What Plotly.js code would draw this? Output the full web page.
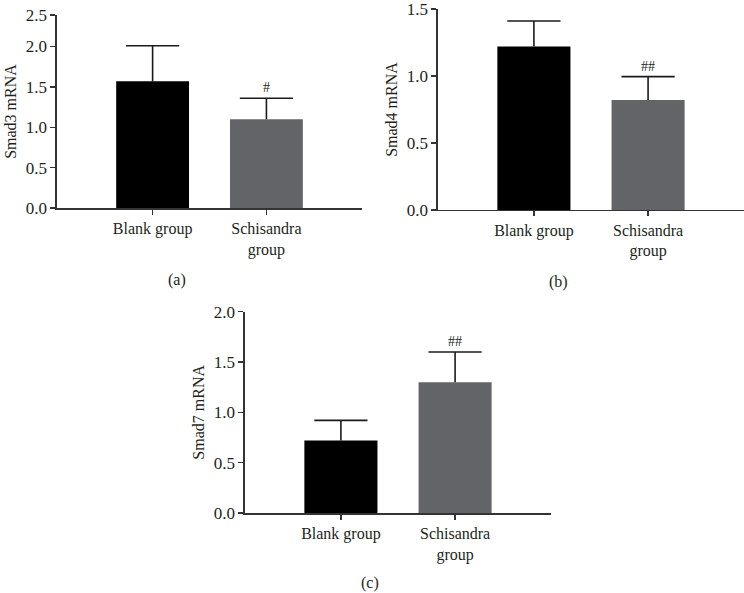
<!DOCTYPE html>
<html>
<head>
<meta charset="utf-8">
<script src="https://cdn.plot.ly/plotly-3.0.1.min.js"></script>
<style>html,body{margin:0;padding:0;background:#fff;}</style>
</head>
<body>
<div id="chart" style="width:744px;height:593px;"></div>
<script>
// Data
const categories = ['Blank group', 'Schisandra<br>group'];
const smad3 = [1.57, 1.10];
const smad3Err = [0.44, 0.26];
const smad4 = [1.22, 0.82];
const smad4Err = [0.19, 0.175];
const smad7 = [0.72, 1.30];
const smad7Err = [0.20, 0.30];
const marks3 = ['', '#'];
const marks4 = ['', '##'];
const marks7 = ['', '##'];
const yTitles = ['Smad3 mRNA', 'Smad4 mRNA', 'Smad7 mRNA'];
const captions = ['(a)', '(b)', '(c)'];

const barColors = ['#000000', '#636467'];
const FONT = 'Liberation Serif, Times New Roman, serif';
const TXT = '#231f20';
const ERRC = '#1a1a1a';

function barTrace(vals, errs, xa, ya) {
  return {
    type: 'bar', x: categories, y: vals, xaxis: xa, yaxis: ya,
    width: 0.64,
    marker: {color: barColors, line: {width: 0}},
    error_y: {type: 'data', symmetric: false, array: errs, arrayminus: [0, 0],
              color: ERRC, thickness: 1.6, width: 0},
    hoverinfo: 'skip', showlegend: false
  };
}
function capTrace(vals, errs, xa, ya) {
  return {
    type: 'scatter', mode: 'markers', x: categories,
    y: vals.map((v, i) => v + errs[i]), xaxis: xa, yaxis: ya,
    marker: {symbol: 'line-ew-open', size: 38, color: ERRC, line: {width: 1.6, color: ERRC}},
    hoverinfo: 'skip', showlegend: false, cliponaxis: false
  };
}

const data = [
  barTrace(smad3, smad3Err, 'x', 'y'), capTrace(smad3, smad3Err, 'x', 'y'),
  barTrace(smad4, smad4Err, 'x2', 'y2'), capTrace(smad4, smad4Err, 'x2', 'y2'),
  barTrace(smad7, smad7Err, 'x3', 'y3'), capTrace(smad7, smad7Err, 'x3', 'y3')
];

function xax(domain, anchor) {
  return {
    domain: domain, anchor: anchor, type: 'category', range: [-0.84, 1.84],
    showline: true, linecolor: '#333', linewidth: 1.5,
    ticks: 'outside', ticklen: 5, tickwidth: 1.5, tickcolor: '#333',
    showgrid: false, zeroline: false, fixedrange: true,
    tickfont: {family: FONT, size: 16, color: TXT}
  };
}
function yax(domain, anchor, range, tickvals, ticktext, title) {
  return {
    domain: domain, anchor: anchor, range: range,
    tickvals: tickvals, ticktext: ticktext,
    showline: true, linecolor: '#333', linewidth: 1.5,
    ticks: 'outside', ticklen: 5, tickwidth: 1.5, tickcolor: '#333',
    ticklabeloverflow: 'allow',
    showgrid: false, zeroline: false, fixedrange: true,
    tickfont: {family: FONT, size: 17, color: TXT},
    title: {text: title, font: {family: FONT, size: 16, color: TXT}, standoff: 5}
  };
}

const annotations = [];
function sigMarks(vals, errs, marks, xa, ya) {
  marks.forEach((m, i) => {
    if (!m) return;
    annotations.push({
      xref: xa, yref: ya, x: categories[i], y: vals[i] + errs[i],
      text: m, showarrow: false, yanchor: 'bottom', yshift: 1,
      font: {family: FONT, size: 14, color: TXT}
    });
  });
}
sigMarks(smad3, smad3Err, marks3, 'x', 'y');
sigMarks(smad4, smad4Err, marks4, 'x2', 'y2');
sigMarks(smad7, smad7Err, marks7, 'x3', 'y3');

const capPos = [[0.238, 0.528], [0.75, 0.524], [0.497, 0.017]];
captions.forEach((c, i) => {
  annotations.push({
    xref: 'paper', yref: 'paper', x: capPos[i][0], y: capPos[i][1],
    text: c, showarrow: false, xanchor: 'center', yanchor: 'middle',
    font: {family: FONT, size: 16, color: TXT}
  });
});

const layout = {
  width: 744, height: 593, autosize: false,
  margin: {l: 0, r: 0, t: 0, b: 0},
  paper_bgcolor: '#ffffff', plot_bgcolor: '#ffffff',
  xaxis: xax([0.0766, 0.4866], 'y'),
  yaxis: yax([0.6492, 0.9747], 'x', [0, 2.39], [0, 0.5, 1, 1.5, 2, 2.39],
             ['0.0', '0.5', '1.0', '1.5', '2.0', '2.5'], yTitles[0]),
  xaxis2: xax([0.5887, 1.0], 'y2'),
  yaxis2: yax([0.6459, 0.9848], 'x2', [0, 1.5], [0, 0.5, 1, 1.5],
              ['0.0', '0.5', '1.0', '1.5'], yTitles[1]),
  xaxis3: xax([0.3293, 0.7406], 'y3'),
  yaxis3: yax([0.1349, 0.4744], 'x3', [0, 2], [0, 0.5, 1, 1.5, 2],
              ['0.0', '0.5', '1.0', '1.5', '2.0'], yTitles[2]),
  annotations: annotations,
  showlegend: false
};

Plotly.newPlot('chart', data, layout, {displayModeBar: false, staticPlot: true});
</script>
</body>
</html>
